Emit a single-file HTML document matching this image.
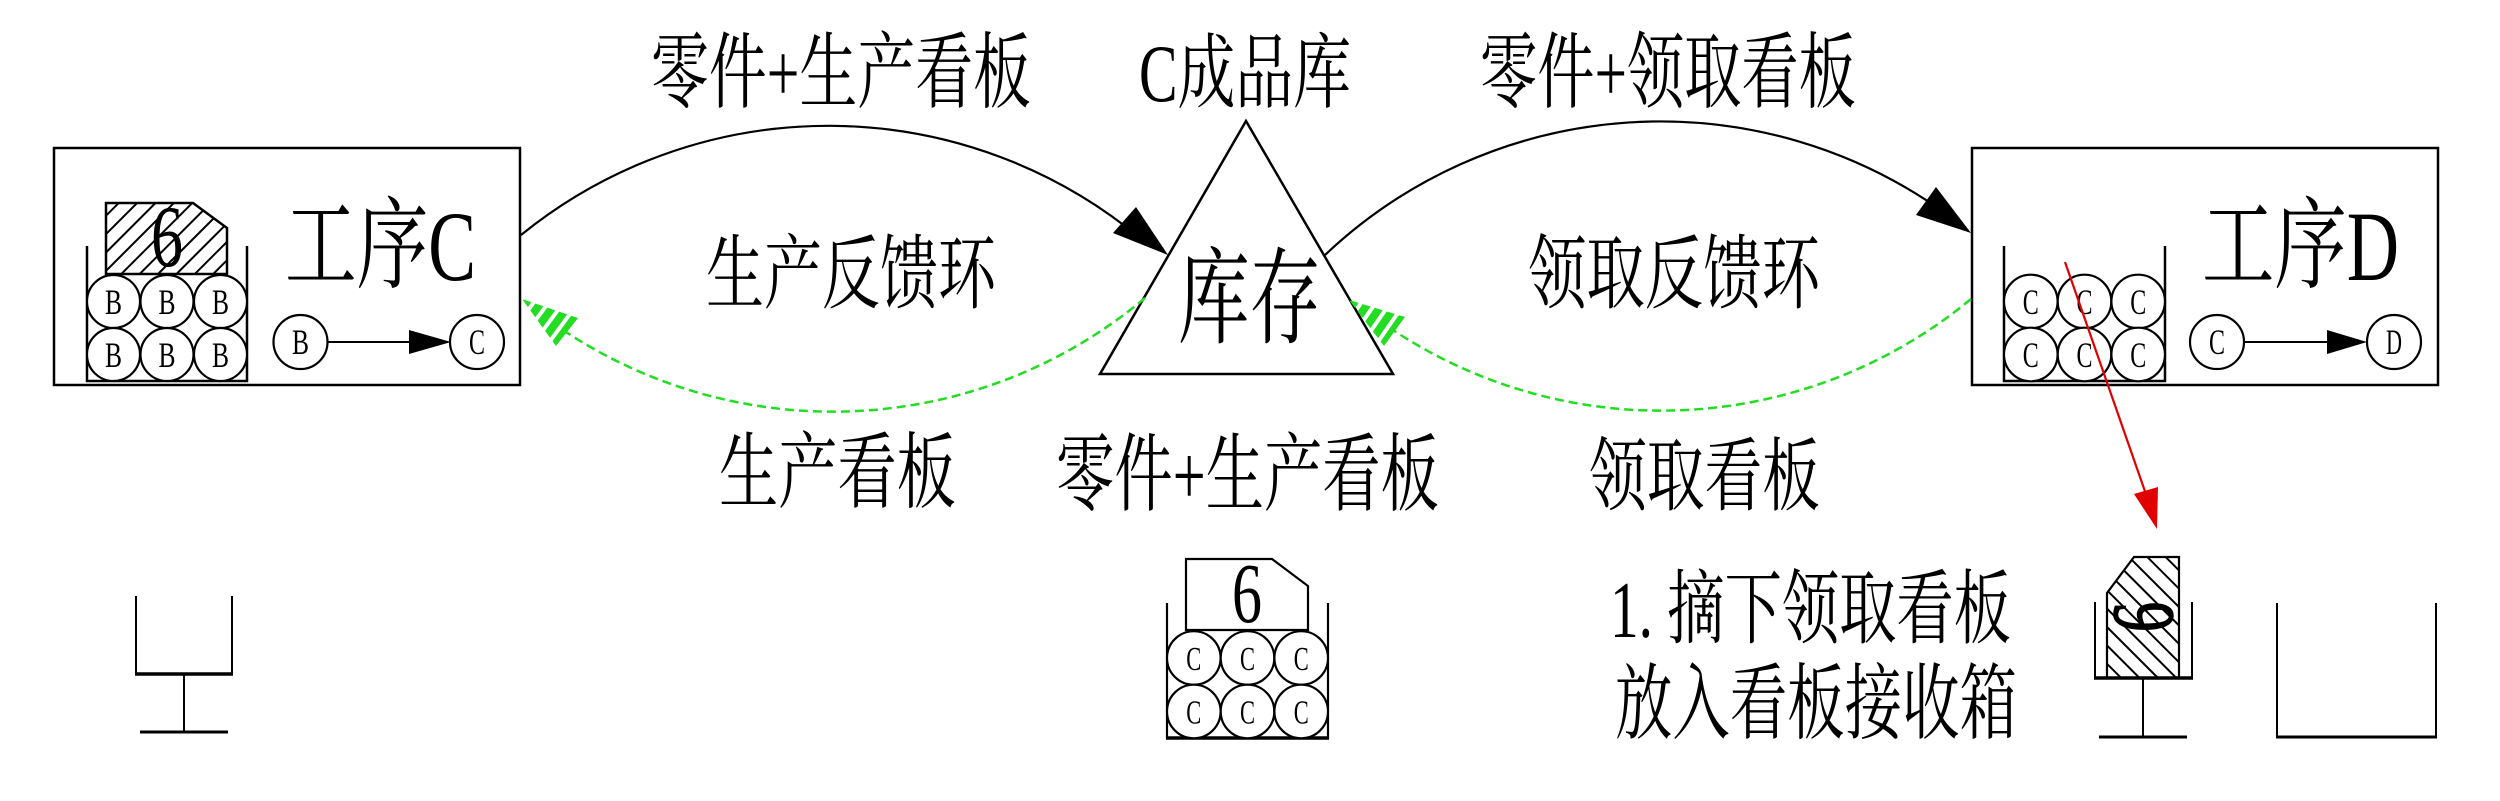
<!DOCTYPE html>
<html>
<head>
<meta charset="utf-8">
<style>
html,body{margin:0;padding:0;background:#fff;}
svg{display:block;}
text{font-family:"Liberation Serif","Noto Serif CJK SC",serif;fill:#000;}
</style>
</head>
<body>
<svg width="2500" height="801" viewBox="0 0 2500 801" xmlns="http://www.w3.org/2000/svg">
<defs>
  <pattern id="h1" width="13" height="13" patternUnits="userSpaceOnUse" patternTransform="rotate(45)">
    <line x1="6.5" y1="0" x2="6.5" y2="13" stroke="#000" stroke-width="2"/>
  </pattern>
  <pattern id="h2" width="13" height="13" patternUnits="userSpaceOnUse" patternTransform="rotate(-45)">
    <line x1="6.5" y1="0" x2="6.5" y2="13" stroke="#000" stroke-width="2"/>
  </pattern>
  <clipPath id="ga1"><polygon points="522,299 578,318 556,346"/></clipPath>
  <clipPath id="ga2"><polygon points="1349,300 1405,317 1384,346"/></clipPath>
</defs>

<rect x="0" y="0" width="2500" height="801" fill="#fff"/>

<!-- Top labels -->
<text x="651" y="101" font-size="83" textLength="380" lengthAdjust="spacingAndGlyphs">零件+生产看板</text>
<text x="1139" y="101" font-size="82" textLength="212" lengthAdjust="spacingAndGlyphs">C成品库</text>
<text x="1480" y="101" font-size="83" textLength="376" lengthAdjust="spacingAndGlyphs">零件+领取看板</text>

<!-- Box C -->
<rect x="54" y="148" width="466" height="237" fill="none" stroke="#000" stroke-width="2.5"/>
<polyline points="87,246 87,381 247,381 247,246" fill="none" stroke="#000" stroke-width="2.5"/>
<polygon points="106,203 193,203 227,228 227,274 106,274" fill="url(#h1)" stroke="#000" stroke-width="2.5"/>
<text x="167" y="266" font-size="88" text-anchor="middle" textLength="32" lengthAdjust="spacingAndGlyphs">6</text>
<g fill="#fff" stroke="#000" stroke-width="2.2">
  <circle cx="113.5" cy="301.5" r="26.5"/><circle cx="167" cy="301.5" r="26.5"/><circle cx="220.5" cy="301.5" r="26.5"/>
  <circle cx="113.5" cy="354.5" r="26.5"/><circle cx="167" cy="354.5" r="26.5"/><circle cx="220.5" cy="354.5" r="26.5"/>
</g>
<g font-size="36" text-anchor="middle">
  <text x="113.5" y="314" textLength="17" lengthAdjust="spacingAndGlyphs">B</text>
  <text x="167" y="314" textLength="17" lengthAdjust="spacingAndGlyphs">B</text>
  <text x="220.5" y="314" textLength="17" lengthAdjust="spacingAndGlyphs">B</text>
  <text x="113.5" y="367" textLength="17" lengthAdjust="spacingAndGlyphs">B</text>
  <text x="167" y="367" textLength="17" lengthAdjust="spacingAndGlyphs">B</text>
  <text x="220.5" y="367" textLength="17" lengthAdjust="spacingAndGlyphs">B</text>
</g>
<text x="285" y="280" font-size="100" textLength="191" lengthAdjust="spacingAndGlyphs">工序C</text>
<circle cx="300.5" cy="342" r="27" fill="none" stroke="#000" stroke-width="2.2"/>
<text x="300.5" y="354" font-size="36" text-anchor="middle" textLength="17" lengthAdjust="spacingAndGlyphs">B</text>
<line x1="327.5" y1="342" x2="412" y2="342" stroke="#000" stroke-width="2"/>
<polygon points="409,330 451,342 409,354" fill="#000"/>
<circle cx="477" cy="342" r="27" fill="none" stroke="#000" stroke-width="2.2"/>
<text x="477" y="354" font-size="36" text-anchor="middle" textLength="16" lengthAdjust="spacingAndGlyphs">C</text>

<!-- Box D -->
<rect x="1972" y="148" width="466" height="237" fill="none" stroke="#000" stroke-width="2.5"/>
<polyline points="2004,246 2004,381 2165,381 2165,246" fill="none" stroke="#000" stroke-width="2.5"/>
<g fill="#fff" stroke="#000" stroke-width="2.2">
  <circle cx="2030.8" cy="301.5" r="26.8"/><circle cx="2084.5" cy="301.5" r="26.8"/><circle cx="2138.2" cy="301.5" r="26.8"/>
  <circle cx="2030.8" cy="354.5" r="26.8"/><circle cx="2084.5" cy="354.5" r="26.8"/><circle cx="2138.2" cy="354.5" r="26.8"/>
</g>
<g font-size="36" text-anchor="middle">
  <text x="2030.8" y="314" textLength="16" lengthAdjust="spacingAndGlyphs">C</text>
  <text x="2084.5" y="314" textLength="16" lengthAdjust="spacingAndGlyphs">C</text>
  <text x="2138.2" y="314" textLength="16" lengthAdjust="spacingAndGlyphs">C</text>
  <text x="2030.8" y="367" textLength="16" lengthAdjust="spacingAndGlyphs">C</text>
  <text x="2084.5" y="367" textLength="16" lengthAdjust="spacingAndGlyphs">C</text>
  <text x="2138.2" y="367" textLength="16" lengthAdjust="spacingAndGlyphs">C</text>
</g>
<text x="2202" y="280" font-size="100" textLength="197" lengthAdjust="spacingAndGlyphs">工序D</text>
<circle cx="2217" cy="342" r="27" fill="none" stroke="#000" stroke-width="2.2"/>
<text x="2217" y="354" font-size="36" text-anchor="middle" textLength="16" lengthAdjust="spacingAndGlyphs">C</text>
<line x1="2244" y1="342" x2="2330" y2="342" stroke="#000" stroke-width="2"/>
<polygon points="2327,330 2367,342 2327,354" fill="#000"/>
<circle cx="2394" cy="342" r="27" fill="none" stroke="#000" stroke-width="2.2"/>
<text x="2394" y="354" font-size="36" text-anchor="middle" textLength="16" lengthAdjust="spacingAndGlyphs">D</text>

<!-- Triangle -->
<polygon points="1246,121 1393,374 1100,374" fill="#fff" stroke="#000" stroke-width="2.5"/>
<text x="1178" y="335" font-size="105" textLength="143" lengthAdjust="spacingAndGlyphs">库存</text>

<!-- Top arcs -->
<path d="M521 235 A488 488 0 0 1 1140 238" fill="none" stroke="#000" stroke-width="2.2"/>
<polygon points="1168,255 1113,233 1136,207" fill="#000"/>
<path d="M1325 255 A488 488 0 0 1 1945 213" fill="none" stroke="#000" stroke-width="2.2"/>
<polygon points="1971,233 1916,215 1936,187" fill="#000"/>

<!-- Feedback loop labels -->
<text x="706" y="302" font-size="81" textLength="290" lengthAdjust="spacingAndGlyphs">生产反馈环</text>
<text x="1528" y="302" font-size="81" textLength="292" lengthAdjust="spacingAndGlyphs">领取反馈环</text>

<!-- Green dashed arcs -->
<path d="M1145 298 A486 486 0 0 1 560 328" fill="none" stroke="#22dd22" stroke-width="2.5" stroke-dasharray="9 5"/>
<g clip-path="url(#ga1)">
  <line x1="520" y1="297.5" x2="580" y2="341.5" stroke="#22dd22" stroke-width="60" stroke-dasharray="8 4" stroke-dashoffset="-4"/>
</g>
<path d="M1971 299 A486 486 0 0 1 1390 328" fill="none" stroke="#22dd22" stroke-width="2.5" stroke-dasharray="9 5"/>
<g clip-path="url(#ga2)">
  <line x1="1347" y1="298.6" x2="1407" y2="340" stroke="#22dd22" stroke-width="60" stroke-dasharray="8 4" stroke-dashoffset="-4"/>
</g>

<!-- Red arrow -->
<line x1="2065" y1="262" x2="2148" y2="500" stroke="#e00000" stroke-width="2.2"/>
<polygon points="2157,529 2134,494 2158,487" fill="#e00000"/>

<!-- Bottom labels -->
<text x="719" y="501" font-size="83" textLength="237" lengthAdjust="spacingAndGlyphs">生产看板</text>
<text x="1056" y="504" font-size="85" textLength="383" lengthAdjust="spacingAndGlyphs">零件+生产看板</text>
<text x="1589" y="504" font-size="80" textLength="231" lengthAdjust="spacingAndGlyphs">领取看板</text>
<text x="1610" y="637" font-size="81" textLength="401" lengthAdjust="spacingAndGlyphs">1. 摘下领取看板</text>
<text x="1615" y="732" font-size="83" textLength="402" lengthAdjust="spacingAndGlyphs">放入看板接收箱</text>

<!-- Left stand -->
<polyline points="136,596 136,674 232,674 232,596" fill="none" stroke="#000" stroke-width="2"/>
<line x1="135" y1="674" x2="233" y2="674" stroke="#000" stroke-width="3.5"/>
<line x1="184" y1="674" x2="184" y2="732" stroke="#000" stroke-width="2"/>
<line x1="140" y1="732" x2="228" y2="732" stroke="#000" stroke-width="3"/>

<!-- Center bin -->
<polyline points="1167,603 1167,738 1328,738 1328,603" fill="none" stroke="#000" stroke-width="2.2"/>
<line x1="1166" y1="738" x2="1329" y2="738" stroke="#000" stroke-width="3.5"/>
<polygon points="1186,559 1272,559 1308,586 1308,630 1186,630" fill="#fff" stroke="#000" stroke-width="2.2"/>
<text x="1247" y="622" font-size="86" text-anchor="middle" textLength="30" lengthAdjust="spacingAndGlyphs">6</text>
<g fill="#fff" stroke="#000" stroke-width="2.2">
  <circle cx="1193.8" cy="658" r="26.8"/><circle cx="1247.5" cy="658" r="26.8"/><circle cx="1301.2" cy="658" r="26.8"/>
  <circle cx="1193.8" cy="711.5" r="26.8"/><circle cx="1247.5" cy="711.5" r="26.8"/><circle cx="1301.2" cy="711.5" r="26.8"/>
</g>
<g font-size="34" text-anchor="middle">
  <text x="1193.8" y="670" textLength="15" lengthAdjust="spacingAndGlyphs">C</text>
  <text x="1247.5" y="670" textLength="15" lengthAdjust="spacingAndGlyphs">C</text>
  <text x="1301.2" y="670" textLength="15" lengthAdjust="spacingAndGlyphs">C</text>
  <text x="1193.8" y="723.5" textLength="15" lengthAdjust="spacingAndGlyphs">C</text>
  <text x="1247.5" y="723.5" textLength="15" lengthAdjust="spacingAndGlyphs">C</text>
  <text x="1301.2" y="723.5" textLength="15" lengthAdjust="spacingAndGlyphs">C</text>
</g>

<!-- Right stand with kanban -->
<polygon points="2134,557 2179,557 2179,678 2107,678 2107,593" fill="url(#h2)" stroke="#000" stroke-width="2.2"/>
<text transform="translate(2142,617) rotate(-90)" x="0" y="30" font-size="88" text-anchor="middle" textLength="30" lengthAdjust="spacingAndGlyphs" stroke="#000" stroke-width="1.5">6</text>
<polyline points="2095,602 2095,678 2192,678 2192,602" fill="none" stroke="#000" stroke-width="2"/>
<line x1="2094" y1="678" x2="2193" y2="678" stroke="#000" stroke-width="3.5"/>
<line x1="2143" y1="678" x2="2143" y2="737" stroke="#000" stroke-width="2"/>
<line x1="2099" y1="737" x2="2187" y2="737" stroke="#000" stroke-width="3"/>

<!-- Right empty bin -->
<polyline points="2277,603 2277,737 2436,737 2436,603" fill="none" stroke="#000" stroke-width="2"/>
<line x1="2276" y1="737" x2="2437" y2="737" stroke="#000" stroke-width="3"/>
</svg>
</body>
</html>
